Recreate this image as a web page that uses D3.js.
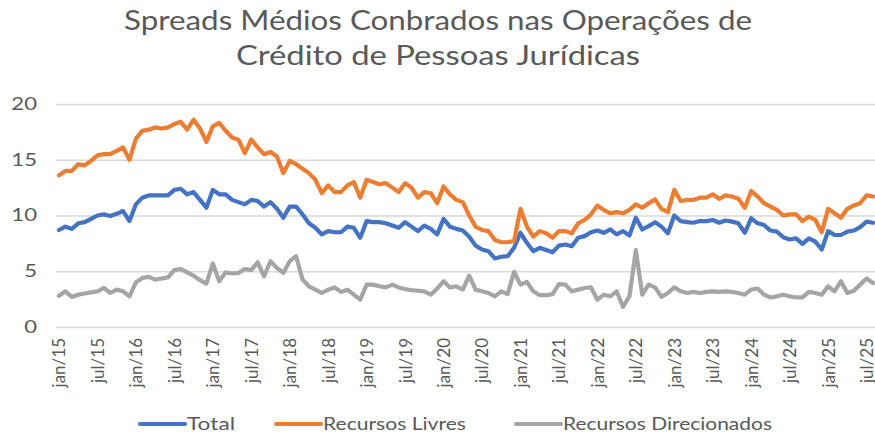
<!DOCTYPE html>
<html><head><meta charset="utf-8">
<script src="https://cdn.jsdelivr.net/npm/d3@7"></script>
<style>
html,body{margin:0;padding:0;background:#fff;}
svg{display:block;font-family:Lato, "Noto Sans", sans-serif;}
</style></head>
<body><svg id="c" width="875" height="434"></svg>
<script>
const monthAbbr = ["jan","fev","mar","abr","mai","jun","jul","ago","set","out","nov","dez"];
const years = ["15","16","17","18","19","20","21","22","23","24","25"];
const categories = [];
years.forEach(yy => monthAbbr.forEach(m => categories.push(m + "/" + yy)));
categories.splice(128); // jan/15 .. ago/25

const tickLabels = ["jan/15","jul/15","jan/16","jul/16","jan/17","jul/17","jan/18","jul/18","jan/19","jul/19","jan/20","jul/20","jan/21","jul/21","jan/22","jul/22","jan/23","jul/23","jan/24","jul/24","jan/25","jul/25"];
const yTicks = [0,5,10,15,20];

const total = [8.7,9.0,8.8,9.3,9.4,9.7,10.0,10.1,9.95,10.15,10.4,9.5,11.0,11.6,11.8,11.8,11.8,11.8,12.3,12.4,11.9,12.1,11.4,10.7,12.3,11.9,11.9,11.4,11.2,11.0,11.4,11.3,10.8,11.2,10.6,9.8,10.8,10.8,10.1,9.3,8.9,8.3,8.6,8.5,8.5,9.0,8.9,8.0,9.5,9.4,9.4,9.3,9.1,8.9,9.4,9.0,8.6,9.1,8.8,8.3,9.7,9.0,8.8,8.65,8.1,7.3,6.95,6.8,6.15,6.3,6.35,7.1,8.45,7.55,6.8,7.1,6.9,6.7,7.3,7.4,7.25,8.0,8.15,8.5,8.65,8.45,8.75,8.3,8.6,8.2,9.8,8.75,9.05,9.4,9.0,8.4,10.0,9.5,9.4,9.35,9.5,9.5,9.6,9.35,9.55,9.45,9.3,8.45,9.75,9.3,9.15,8.65,8.55,8.05,7.85,7.95,7.45,7.95,7.65,6.95,8.6,8.25,8.25,8.55,8.65,8.95,9.45,9.35];
const livres = [13.6,14.0,14.0,14.6,14.5,14.9,15.4,15.5,15.5,15.8,16.1,15.0,16.9,17.6,17.7,17.9,17.8,17.9,18.2,18.4,17.7,18.6,17.8,16.6,18.0,18.3,17.6,17.0,16.8,15.6,16.8,16.1,15.5,15.7,15.3,13.8,14.9,14.6,14.2,13.8,13.2,12.0,12.7,12.1,12.1,12.7,13.0,11.6,13.2,13.0,12.8,12.9,12.5,12.1,12.9,12.5,11.6,12.1,12.0,11.1,12.6,11.9,11.4,11.2,10.0,9.0,8.7,8.6,7.8,7.6,7.6,7.7,10.6,9.0,8.1,8.6,8.4,8.0,8.6,8.6,8.4,9.3,9.6,10.1,10.9,10.5,10.2,10.3,10.2,10.5,11.0,10.7,11.1,11.45,10.6,10.3,12.3,11.3,11.4,11.4,11.6,11.6,11.9,11.5,11.8,11.7,11.5,10.7,12.2,11.7,11.1,10.8,10.5,10.0,10.1,10.1,9.5,9.9,9.6,8.5,10.6,10.2,9.8,10.6,10.9,11.1,11.8,11.7];
const direcionados = [2.8,3.2,2.7,2.9,3.0,3.1,3.2,3.5,3.05,3.35,3.2,2.75,4.0,4.4,4.5,4.25,4.35,4.45,5.1,5.2,4.9,4.6,4.2,3.9,5.7,4.1,4.9,4.8,4.85,5.2,5.1,5.8,4.55,5.9,5.3,4.85,5.9,6.35,4.25,3.65,3.35,3.05,3.35,3.55,3.15,3.35,2.9,2.45,3.8,3.8,3.65,3.55,3.8,3.55,3.4,3.3,3.25,3.2,2.9,3.45,4.1,3.55,3.65,3.35,4.6,3.35,3.2,3.05,2.75,3.2,2.95,4.95,3.8,4.05,3.2,2.85,2.85,2.95,3.85,3.8,3.2,3.35,3.5,3.55,2.45,2.9,2.75,3.2,1.8,2.75,6.9,2.9,3.8,3.55,2.7,3.05,3.55,3.2,3.05,3.15,3.05,3.15,3.2,3.15,3.2,3.15,3.05,2.9,3.35,3.45,2.9,2.65,2.75,2.9,2.75,2.65,2.65,3.15,3.05,2.9,3.65,3.2,4.1,3.05,3.25,3.8,4.35,3.95];

const seriesNames = ["Total","Recursos Livres","Recursos Direcionados"];
const seriesColors = ["#4472C4","#ED7D31","#A5A5A5"];
const series = [total, livres, direcionados];
const titleLines = ["Spreads Médios Conbrados nas Operações de","Crédito de Pessoas Jurídicas"];

const svg = d3.select("#c");
const textColor = "#595959";
const stretch = 1.3;

function widen(sel, factor) {
  sel.each(function() {
    const len = this.getComputedTextLength();
    d3.select(this).attr("textLength", (len*factor).toFixed(1)).attr("lengthAdjust","spacingAndGlyphs");
  });
}

const x = d3.scalePoint().domain(categories).range([59, 873]);
const y = d3.scaleLinear().domain([0, 20]).range([327, 104]);

// title
const titleTargets = [{w:628, base:30},{w:404, base:65}];
titleLines.forEach((t,i) => {
  svg.append("text").attr("x", 438).attr("y", titleTargets[i].base)
    .attr("text-anchor","middle").attr("fill", textColor)
    .style("font-size","27px").attr("textLength", titleTargets[i].w)
    .attr("lengthAdjust","spacingAndGlyphs").text(t);
});

// gridlines
const grid = svg.append("g").attr("transform","translate(56,0)")
  .call(d3.axisLeft(y).tickValues(yTicks).tickSize(-819).tickFormat(""));
grid.select(".domain").remove();
grid.selectAll("line").attr("stroke","#d9d9d9").attr("stroke-width",1.3);

// y labels
const ya = svg.append("g").attr("transform","translate(37,0)")
  .call(d3.axisLeft(y).tickValues(yTicks).tickSize(0).tickPadding(0));
ya.select(".domain").remove();
ya.selectAll("text").attr("fill",textColor).style("font-size","17px").style("font-family","Lato, sans-serif");
widen(ya.selectAll("text"), stretch);

// x labels
const xa = svg.append("g").attr("transform","translate(0,327)")
  .call(d3.axisBottom(x).tickValues(tickLabels).tickSize(0));
xa.select(".domain").remove();
xa.selectAll("text").attr("fill",textColor).style("font-size","17px").style("font-family","Lato, sans-serif")
  .attr("transform","rotate(-90)").attr("text-anchor","end")
  .attr("x",-11).attr("y",0).attr("dy","0.35em");

// lines
const line = d3.line().x((d,i)=>x(categories[i])).y(d=>y(d));
series.forEach((s,k) => {
  svg.append("path").datum(s).attr("d", line).attr("fill","none")
    .attr("stroke", seriesColors[k]).attr("stroke-width",4.2)
    .attr("stroke-linejoin","round").attr("stroke-linecap","round");
});

// legend
const legendX = [140, 276, 516];
const legendTextW = [48, 143, 209];
seriesNames.forEach((n,k) => {
  const g = svg.append("g").attr("transform",`translate(${legendX[k]},424)`);
  g.append("line").attr("x1",0).attr("x2",45).attr("y1",0).attr("y2",0)
    .attr("stroke",seriesColors[k]).attr("stroke-width",4.2).attr("stroke-linecap","round");
  g.append("text").attr("x",47).attr("y",0).attr("dy","0.35em")
    .attr("fill",textColor).style("font-size","16.5px")
    .attr("textLength", legendTextW[k]).attr("lengthAdjust","spacingAndGlyphs").text(n);
});
</script></body></html>
